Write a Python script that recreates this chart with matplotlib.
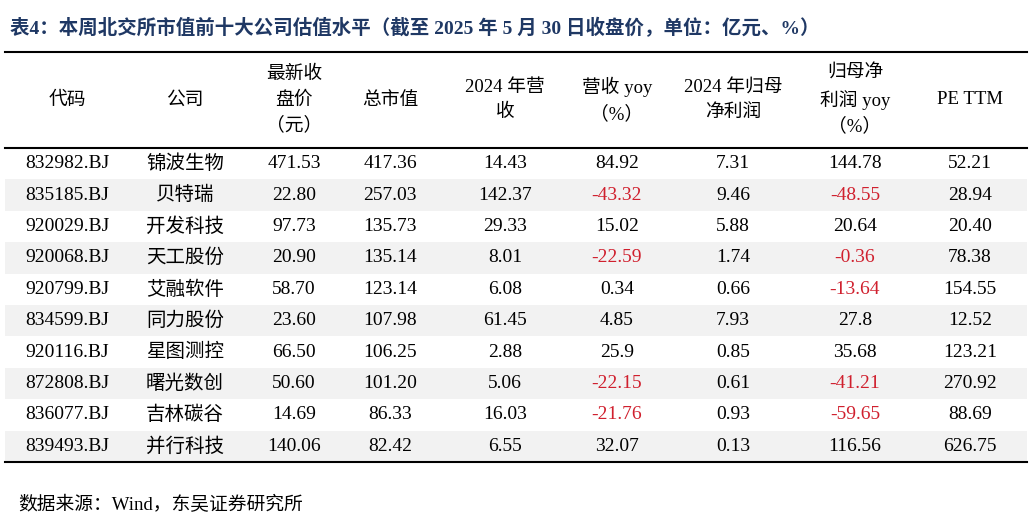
import matplotlib
matplotlib.use("Agg")
import matplotlib.pyplot as plt
from matplotlib.patches import Rectangle

codes = ["832982.BJ","835185.BJ","920029.BJ","920068.BJ","920799.BJ","834599.BJ","920116.BJ","872808.BJ","836077.BJ","839493.BJ"]
companies = ["锦波生物","贝特瑞","开发科技","天工股份","艾融软件","同力股份","星图测控","曙光数创","吉林碳谷","并行科技"]
close = ["471.53","22.80","97.73","20.90","58.70","23.60","66.50","50.60","14.69","140.06"]
mcap = ["417.36","257.03","135.73","135.14","123.14","107.98","106.25","101.20","86.33","82.42"]
rev = ["14.43","142.37","29.33","8.01","6.08","61.45","2.88","5.06","16.03","6.55"]
rev_yoy = ["84.92","-43.32","15.02","-22.59","0.34","4.85","25.9","-22.15","-21.76","32.07"]
np_ = ["7.31","9.46","5.88","1.74","0.66","7.93","0.85","0.61","0.93","0.13"]
np_yoy = ["144.78","-48.55","20.64","-0.36","-13.64","27.8","35.68","-41.21","-59.65","116.56"]
pe = ["52.21","28.94","20.40","78.38","154.55","12.52","123.21","270.92","88.69","626.75"]
headers = ["代码","公司","最新收\n盘价\n（元）","总市值","2024 年营\n收","营收 yoy\n（%）","2024 年归母\n净利润","归母净\n利润 yoy\n（%）","PE TTM"]

fam = ["Liberation Serif", "Noto Sans CJK SC"]
W, H = 1031, 529
fig = plt.figure(figsize=(W/100, H/100), dpi=100)
ax = fig.add_axes([0, 0, 1, 1])
ax.set_xlim(0, W); ax.set_ylim(H, 0); ax.axis("off")

centers = [67, 185, 294, 390, 505, 617, 733, 855, 970]
x0, x1 = 5, 1027
ytop, yhead, ybot = 52, 148, 462
rh = (ybot - yhead) / 10

ax.text(10, 28, "表4：本周北交所市值前十大公司估值水平（截至 2025 年 5 月 30 日收盘价，单位：亿元、%）",
        family=fam, fontsize=14, fontweight="bold", color="#1F3864", va="center", ha="left")

for i in range(10):
    if i % 2 == 1:
        ax.add_patch(Rectangle((x0, yhead + i*rh), x1-x0, rh, color="#F2F2F2", lw=0))

ax.plot([x0, x1], [ytop, ytop], color="black", lw=1.5)
ax.plot([x0, x1], [yhead, yhead], color="black", lw=1.5)
ax.plot([x0, x1], [ybot, ybot], color="black", lw=1.5)

for c, h in zip(centers, headers):
    ax.text(c, (ytop+yhead)/2, h, family=fam, fontsize=13.5, ha="center", va="center", linespacing=1.55)

cols = [codes, companies, close, mcap, rev, rev_yoy, np_, np_yoy, pe]
for j, col in enumerate(cols):
    for i, v in enumerate(col):
        color = "#D0202E" if v.startswith("-") else "black"
        ax.text(centers[j], yhead + (i+0.5)*rh, v, family=fam, fontsize=14,
                ha="center", va="center", color=color)

ax.text(18, 505, "数据来源：Wind，东吴证券研究所", family=fam, fontsize=13.5, ha="left", va="center")
fig.savefig("out.png", dpi=100)
